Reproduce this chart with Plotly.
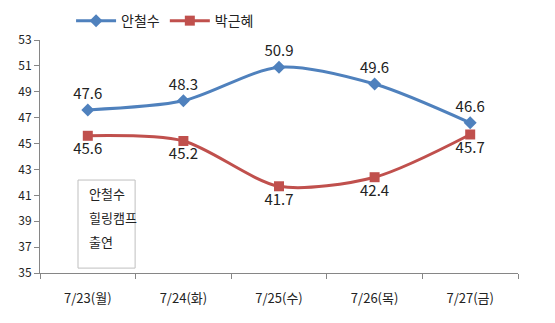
import plotly.graph_objects as go

categories = ["7/23(월)", "7/24(화)", "7/25(수)", "7/26(목)", "7/27(금)"]
ahn = [47.6, 48.3, 50.9, 49.6, 46.6]
park = [45.6, 45.2, 41.7, 42.4, 45.7]
yticks = [35, 37, 39, 41, 43, 45, 47, 49, 51, 53]
note_lines = ["안철수", "힐링캠프", "출연"]

FONT = "Noto Sans CJK KR"

fig = go.Figure()
fig.add_trace(go.Scatter(
    x=categories, y=ahn, name="안철수", mode="lines+markers+text",
    line=dict(color="#4F81BD", width=3, shape="spline", smoothing=0.8),
    marker=dict(symbol="diamond", size=10, color="#4F81BD"),
    text=[f"{v:.1f}" for v in ahn], textposition="top center",
    textfont=dict(family=FONT, size=15, color="#222222"),
))
fig.add_trace(go.Scatter(
    x=categories, y=park, name="박근혜", mode="lines+markers+text",
    line=dict(color="#C0504D", width=3, shape="spline", smoothing=0.8),
    marker=dict(symbol="square", size=10, color="#C0504D"),
    text=[f"{v:.1f}" for v in park], textposition="bottom center",
    textfont=dict(family=FONT, size=15, color="#222222"),
))

fig.add_shape(type="rect", xref="paper", yref="paper",
              x0=0.0795, x1=0.199, y0=0.021, y1=0.399,
              line=dict(color="#BFBFBF", width=1), fillcolor="white", layer="below")
for i, t in enumerate(note_lines):
    fig.add_annotation(
        x=0.098, y=0.343 - i * 0.103, xref="paper", yref="paper",
        xanchor="left", yanchor="middle", text=t, showarrow=False,
        font=dict(family=FONT, size=13, color="#222222"),
    )

fig.update_layout(
    width=555, height=323,
    margin=dict(l=40, r=37, t=40, b=50, autoexpand=False),
    paper_bgcolor="white", plot_bgcolor="white",
    font=dict(family=FONT, size=11, color="#222222"),
    legend=dict(orientation="h", x=0.065, y=1.15, xanchor="left", yanchor="top",
                font=dict(family=FONT, size=14, color="#222222"),
                itemwidth=40, bgcolor="rgba(0,0,0,0)"),
    xaxis=dict(type="category", range=[-0.5, 4.5], showline=True, linecolor="#868686",
               ticks="outside", tickson="boundaries", ticklen=5, tickcolor="#868686",
               showgrid=False, ticklabelstandoff=13,
               tickfont=dict(family=FONT, size=13, color="#222222")),
    yaxis=dict(range=[35, 53], tickvals=yticks, showline=True, linecolor="#868686",
               ticks="outside", ticklen=5, tickcolor="#868686", showgrid=False,
               zeroline=False, tickfont=dict(family=FONT, size=12, color="#222222")),
)

fig.write_html("out.html")
